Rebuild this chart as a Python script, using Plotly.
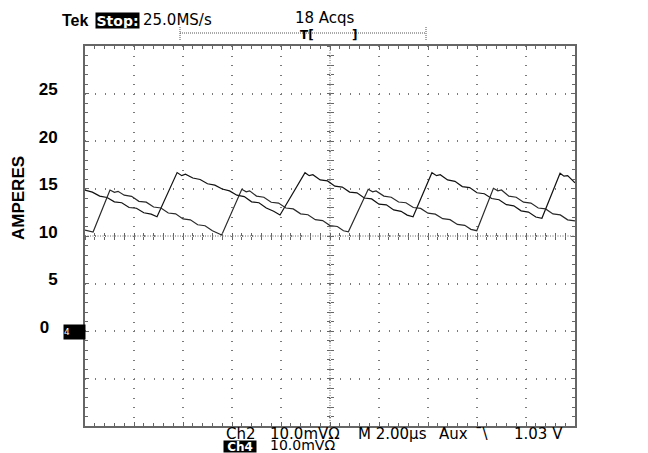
import plotly.graph_objects as go

# ---- data ----
# time in microseconds (2 us/div, 10 divisions), current in amperes (5 A/div)
time_ch2 = [0, 0.3, 0.6, 0.9, 1.2, 1.5, 1.8, 2.1, 2.4, 2.7, 2.94,
            3.76, 3.95, 4.1, 4.4, 4.7, 5.0, 5.3, 5.6, 5.9, 6.2, 6.5, 6.8, 7.1, 7.4, 7.7, 7.96,
            8.98, 9.15, 9.3, 9.6, 9.9, 10.2, 10.5, 10.8, 11.1, 11.4, 11.7, 12.0, 12.3, 12.6, 12.9, 13.15, 13.39,
            14.16, 14.35, 14.5, 14.8, 15.1, 15.4, 15.7, 16.0, 16.3, 16.6, 16.9, 17.2, 17.5, 17.8, 18.1, 18.4, 18.65,
            19.39, 19.55, 19.7, 20.0]
amps_ch2 = [14.84, 14.62, 14.2, 14.05, 13.6, 13.5, 13.0, 12.92, 12.45, 12.3, 12.03,
            16.68, 16.35, 16.5, 16.1, 15.95, 15.5, 15.35, 14.95, 14.75, 14.3, 14.15, 13.6, 13.5, 12.95, 12.6, 12.21,
            16.66, 16.35, 16.45, 15.9, 15.8, 15.25, 15.15, 14.62, 14.55, 14.0, 13.9, 13.35, 13.28, 12.75, 12.6, 12.2, 12.03,
            16.66, 16.35, 16.45, 15.9, 15.75, 15.2, 15.1, 14.55, 14.45, 13.95, 13.82, 13.3, 13.18, 12.65, 12.52, 12.0, 11.86,
            16.6, 16.3, 16.35, 15.6]

time_ch4 = [0, 0.33, 1.02, 1.2, 1.35, 1.6, 1.9, 2.2, 2.5, 2.8, 3.1, 3.4, 3.7, 4.0, 4.3, 4.6, 4.9, 5.2, 5.58,
            6.40, 6.58, 6.72, 7.0, 7.3, 7.6, 7.9, 8.2, 8.5, 8.8, 9.1, 9.4, 9.7, 10.0, 10.3, 10.55, 10.75,
            11.56, 11.74, 11.88, 12.2, 12.5, 12.8, 13.1, 13.4, 13.7, 14.0, 14.3, 14.6, 14.9, 15.2, 15.5, 15.75, 15.99,
            16.67, 16.85, 17.0, 17.3, 17.6, 17.9, 18.2, 18.5, 18.8, 19.1, 19.4, 19.7, 20.0]
amps_ch4 = [10.63, 10.42, 14.84, 14.6, 14.7, 14.3, 14.18, 13.65, 13.56, 13.05, 12.95, 12.42, 12.33, 11.8, 11.7, 11.18, 11.08, 10.55, 10.11,
            14.92, 14.65, 14.75, 14.2, 14.08, 13.55, 13.47, 12.95, 12.85, 12.33, 12.24, 11.72, 11.62, 11.1, 11.0, 10.55, 10.45,
            14.92, 14.65, 14.75, 14.2, 14.08, 13.58, 13.5, 13.0, 12.9, 12.4, 12.3, 11.82, 11.72, 11.22, 11.12, 10.7, 10.56,
            15.02, 14.75, 14.85, 14.2, 14.08, 13.56, 13.47, 12.95, 12.85, 12.32, 12.22, 11.7, 11.6]

y_tick_vals = [-5, 0, 5, 10, 15, 20, 25]
y_tick_text = ["", "0\u2002", "5", "10", "15", "20", "25"]
x_tick_vals = [2, 4, 6, 8, 10, 12, 14, 16, 18]

# page body adds an 8px offset; figure is sized/margined so the plot lands at
# screen x 85..575, y 46..426
OFF = 8
W, H = 640, 445
PW, PH = 490, 380
L, T = 85 - OFF, 46 - OFF
R, B = W - L - PW, H - T - PH

SX0, SY1 = 85, 426  # screen-space plot origin


def px(x):
    return (x - SX0) / PW


def py(y):
    return (SY1 - y) / PH


fig = go.Figure()
fig.add_trace(go.Scatter(x=time_ch2, y=amps_ch2, mode="lines",
                         line=dict(color="#111111", width=1.2), showlegend=False, hoverinfo="skip"))
fig.add_trace(go.Scatter(x=time_ch4, y=amps_ch4, mode="lines",
                         line=dict(color="#2a2a2a", width=1.2), showlegend=False, hoverinfo="skip"))
# empty traces so the crosshair axes are rendered
fig.add_trace(go.Scatter(x=[], y=[], xaxis="x2", yaxis="y2", showlegend=False))
fig.add_trace(go.Scatter(x=[], y=[], xaxis="x3", yaxis="y3", showlegend=False))

axis_col = "#666666"
grid_col = "#7a7a7a"

fig.update_layout(
    width=W, height=H,
    margin=dict(l=L, r=R, t=T, b=B, pad=0),
    paper_bgcolor="white", plot_bgcolor="white",
    font=dict(family="DejaVu Sans", size=15, color="black"),
    xaxis=dict(range=[0, 20], tickmode="array", tickvals=x_tick_vals,
               showticklabels=False, ticks="inside", ticklen=4, tickcolor=axis_col,
               showline=True, linecolor=axis_col, linewidth=2, mirror="ticks",
               showgrid=True, gridcolor=grid_col, gridwidth=1.5, griddash="1px,8.5px",
               zeroline=False, fixedrange=True,
               minor=dict(tickmode="linear", tick0=0, dtick=0.4, ticks="inside",
                          ticklen=3, tickcolor=axis_col, showgrid=False)),
    yaxis=dict(range=[-10, 30], tickmode="array", tickvals=y_tick_vals, ticktext=y_tick_text,
               ticks="inside", ticklen=4, tickcolor=axis_col,
               tickfont=dict(family="Liberation Sans", size=17, color="black", weight="bold"),
               ticklabelstandoff=22, ticklabelshift=-4,
               showline=True, linecolor=axis_col, linewidth=2, mirror="ticks",
               showgrid=True, gridcolor=grid_col, gridwidth=1.5, griddash="1px,8.8px",
               zeroline=False, fixedrange=True,
               minor=dict(tickmode="linear", tick0=0, dtick=1, ticks="inside",
                          ticklen=3, tickcolor=axis_col, showgrid=False)),
    xaxis2=dict(overlaying="x", anchor="free", position=0.5, range=[0, 20],
                tickmode="linear", tick0=0, dtick=0.4, ticks="inside", ticklen=3,
                tickcolor=axis_col, showticklabels=False, showgrid=False,
                showline=False, zeroline=False, fixedrange=True),
    xaxis3=dict(overlaying="x", anchor="free", position=0.5, range=[0, 20],
                tickmode="linear", tick0=0, dtick=0.4, ticks="outside", ticklen=3,
                tickcolor=axis_col, showticklabels=False, showgrid=False,
                showline=False, zeroline=False, fixedrange=True),
    yaxis2=dict(overlaying="y", anchor="free", position=0.5, range=[-10, 30],
                tickmode="linear", tick0=0, dtick=1, ticks="inside", ticklen=3,
                tickcolor=axis_col, showticklabels=False, showgrid=False,
                showline=False, zeroline=False, fixedrange=True),
    yaxis3=dict(overlaying="y", anchor="free", position=0.5, range=[-10, 30],
                tickmode="linear", tick0=0, dtick=1, ticks="outside", ticklen=3,
                tickcolor=axis_col, showticklabels=False, showgrid=False,
                showline=False, zeroline=False, fixedrange=True),
)

# centre crosshair dotted lines
fig.add_shape(type="line", xref="x", yref="y", x0=10, x1=10, y0=-10, y1=30,
              line=dict(color=axis_col, width=1, dash="1px,1.5px"), layer="below")
fig.add_shape(type="line", xref="x", yref="y", x0=0, x1=20, y0=10, y1=10,
              line=dict(color=axis_col, width=1, dash="1px,1.5px"), layer="below")

# record-view indicator at top
fig.add_shape(type="line", xref="paper", yref="paper", x0=px(180), x1=px(426), y0=py(33), y1=py(33),
              line=dict(color="#555555", width=1, dash="1px,1px"))
for xe in (180, 426):
    fig.add_shape(type="line", xref="paper", yref="paper", x0=px(xe), x1=px(xe), y0=py(40), y1=py(27),
                  line=dict(color="#555555", width=1, dash="1px,1px"))


def txt(text, x, y, size=15, family="DejaVu Sans", color="black", bg=None, bold=False, **kw):
    fig.add_annotation(text=text, xref="paper", yref="paper", x=px(x), y=py(y),
                       xanchor="left", yanchor="middle", showarrow=False,
                       font=dict(family=family, size=size, color=color, weight="bold" if bold else "normal"),
                       bgcolor=bg, borderpad=0, **kw)


txt("Tek", 61, 20, size=16, family="Liberation Sans", bold=True)
txt("Stop:", 95, 20, size=14, color="white", bg="black", bold=True, width=43, height=15)
txt("25.0MS/s", 142, 20)
txt("18 Acqs", 294, 18)
txt("T[", 299, 35, size=12, bold=True)
txt("]", 351, 35, size=12, bold=True)

txt("Ch2", 225, 434)
txt("10.0mV\u03a9", 269, 434)
txt("M 2.00\u00b5s", 357, 434)
txt("Aux", 438, 434)
txt("\u02c9\\", 474, 434)
txt("1.03 V", 513, 434)
txt("Ch4", 223, 446, size=12, color="white", bg="black", bold=True, width=32, height=11)
txt("10.0mV\u03a9", 269, 445, size=14)

# y-axis title
fig.add_annotation(text="AMPERES", xref="paper", yref="paper", x=px(18), y=py(198),
                   textangle=-90, showarrow=False, xanchor="center", yanchor="middle",
                   font=dict(family="Liberation Sans", size=17, color="black", weight="bold"))

# channel-4 ground marker at 0 A
fig.add_annotation(text="4", xref="paper", yref="y", x=px(74.5), y=0, yshift=-1,
                   showarrow=False, xanchor="center", yanchor="middle", align="left",
                   width=21, height=14, bgcolor="black", borderpad=0,
                   font=dict(family="DejaVu Sans", size=9, color="white"))

fig.write_html("out.html")
